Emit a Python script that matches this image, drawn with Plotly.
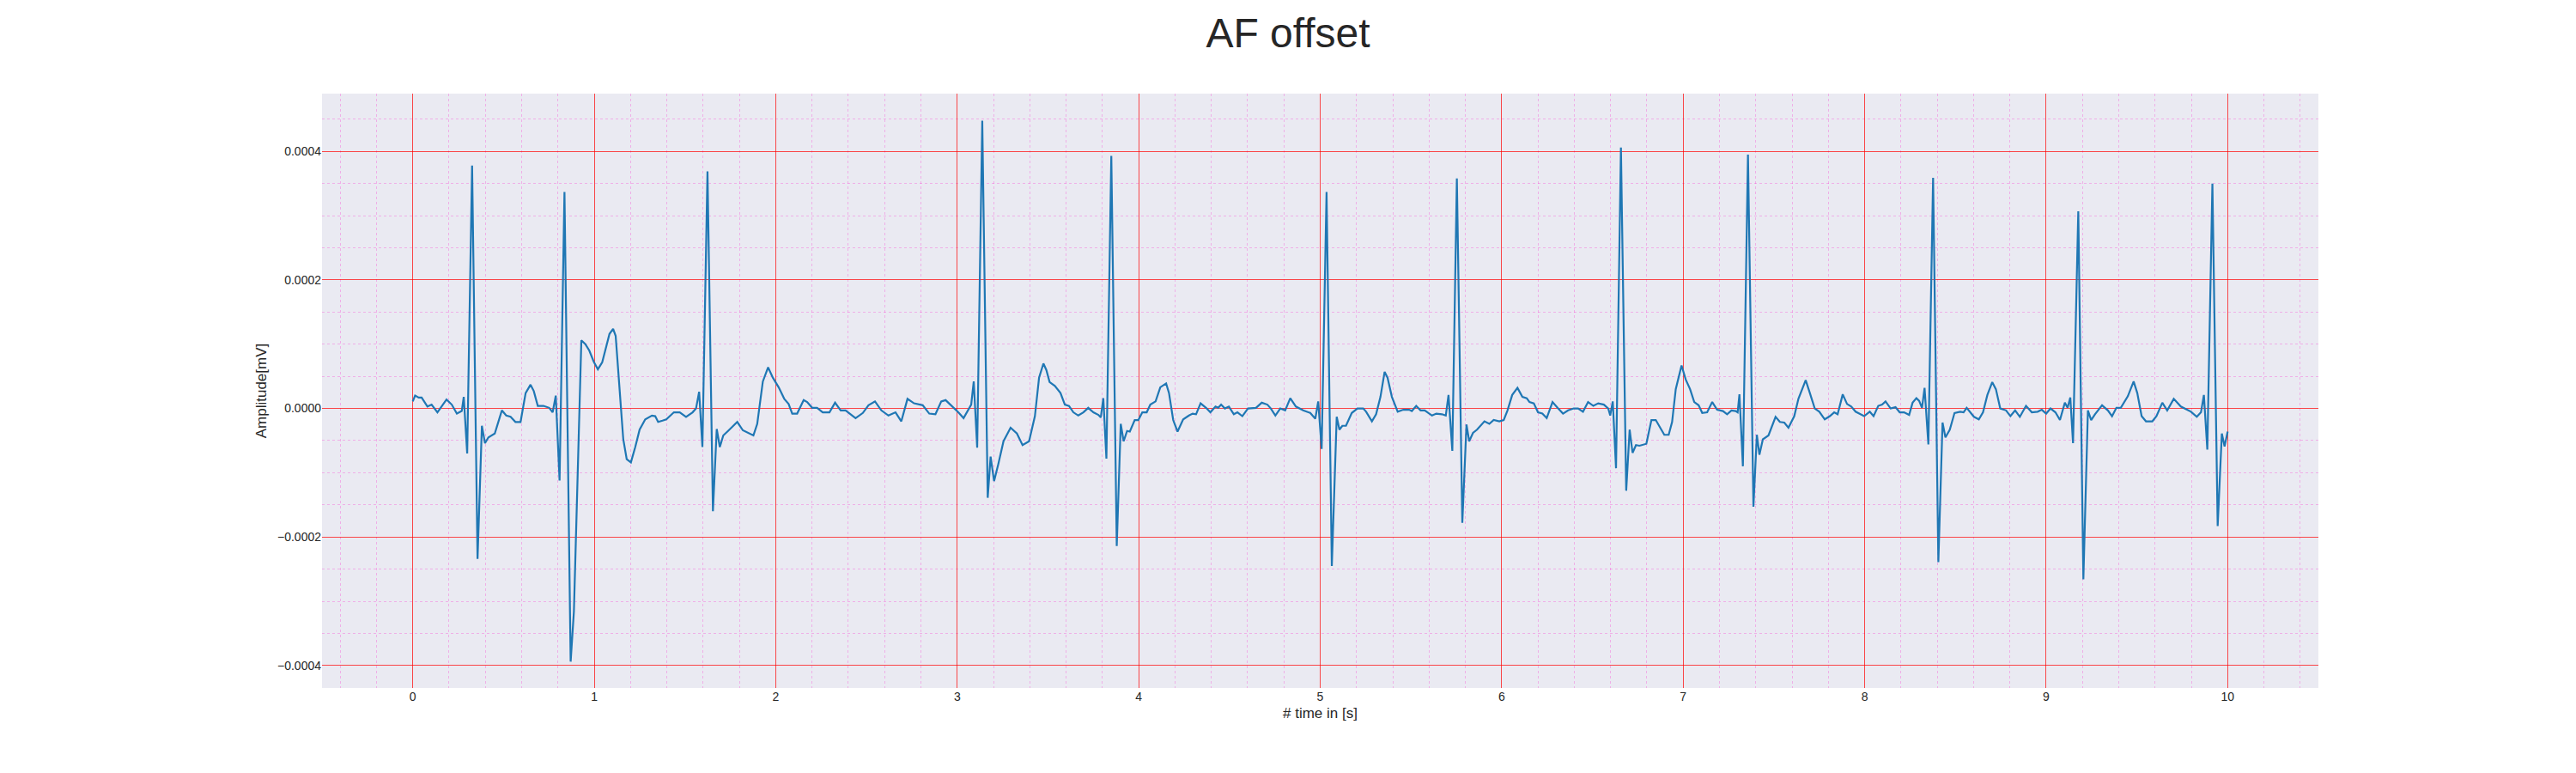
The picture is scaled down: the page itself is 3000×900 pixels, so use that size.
import plotly.graph_objects as go

# ECG trace (time in s, amplitude in mV)
time_s = [
    0.000, 0.013, 0.033, 0.049, 0.081, 0.104, 0.136, 0.186, 0.215, 0.243,
    0.270, 0.281, 0.300, 0.327, 0.357, 0.381, 0.398, 0.417, 0.452, 0.491,
    0.515, 0.539, 0.566, 0.594, 0.622, 0.649, 0.667, 0.689, 0.720, 0.752,
    0.771, 0.788, 0.809, 0.836, 0.870, 0.888, 0.929, 0.951, 0.973, 0.997,
    1.020, 1.044, 1.084, 1.104, 1.118, 1.139, 1.160, 1.179, 1.202, 1.226,
    1.250, 1.281, 1.318, 1.336, 1.352, 1.376, 1.397, 1.439, 1.471, 1.506,
    1.542, 1.561, 1.578, 1.596, 1.624, 1.654, 1.675, 1.692, 1.711, 1.741,
    1.764, 1.788, 1.819, 1.851, 1.877, 1.898, 1.929, 1.958, 1.984, 2.016,
    2.047, 2.071, 2.091, 2.118, 2.154, 2.173, 2.201, 2.228, 2.259, 2.296,
    2.327, 2.358, 2.385, 2.440, 2.480, 2.511, 2.547, 2.582, 2.621, 2.660,
    2.692, 2.726, 2.762, 2.810, 2.846, 2.880, 2.912, 2.936, 2.975, 3.006,
    3.035, 3.061, 3.077, 3.091, 3.110, 3.138, 3.168, 3.184, 3.203, 3.226,
    3.255, 3.294, 3.329, 3.360, 3.396, 3.428, 3.451, 3.475, 3.491, 3.509,
    3.538, 3.569, 3.593, 3.616, 3.640, 3.667, 3.695, 3.722, 3.750, 3.778,
    3.791, 3.805, 3.822, 3.849, 3.879, 3.901, 3.917, 3.936, 3.951, 3.978,
    3.998, 4.020, 4.044, 4.064, 4.093, 4.119, 4.151, 4.167, 4.190, 4.214,
    4.245, 4.277, 4.297, 4.316, 4.341, 4.371, 4.395, 4.423, 4.438, 4.454,
    4.475, 4.497, 4.524, 4.544, 4.571, 4.602, 4.646, 4.678, 4.709, 4.728,
    4.753, 4.780, 4.807, 4.835, 4.866, 4.906, 4.945, 4.973, 4.989, 5.008,
    5.035, 5.064, 5.091, 5.106, 5.122, 5.142, 5.174, 5.205, 5.237, 5.253,
    5.285, 5.308, 5.332, 5.355, 5.371, 5.395, 5.427, 5.458, 5.490, 5.505,
    5.529, 5.553, 5.576, 5.616, 5.640, 5.671, 5.692, 5.707, 5.728, 5.753,
    5.783, 5.806, 5.821, 5.842, 5.864, 5.905, 5.932, 5.956, 5.987, 6.011,
    6.032, 6.058, 6.087, 6.114, 6.138, 6.153, 6.177, 6.200, 6.224, 6.248,
    6.280, 6.311, 6.338, 6.366, 6.397, 6.421, 6.448, 6.476, 6.505, 6.532,
    6.563, 6.587, 6.598, 6.612, 6.630, 6.657, 6.686, 6.705, 6.721, 6.740,
    6.759, 6.797, 6.825, 6.849, 6.873, 6.896, 6.920, 6.939, 6.959, 6.991,
    7.014, 7.038, 7.061, 7.085, 7.105, 7.132, 7.160, 7.187, 7.219, 7.242,
    7.266, 7.289, 7.300, 7.310, 7.329, 7.357, 7.387, 7.406, 7.420, 7.439,
    7.470, 7.489, 7.509, 7.533, 7.557, 7.580, 7.612, 7.635, 7.675, 7.698,
    7.725, 7.750, 7.780, 7.808, 7.832, 7.851, 7.879, 7.903, 7.926, 7.950,
    7.997, 8.028, 8.049, 8.075, 8.096, 8.115, 8.143, 8.170, 8.193, 8.217,
    8.245, 8.264, 8.285, 8.300, 8.316, 8.330, 8.351, 8.377, 8.406, 8.429,
    8.445, 8.469, 8.495, 8.526, 8.545, 8.562, 8.581, 8.602, 8.629, 8.652,
    8.676, 8.703, 8.723, 8.747, 8.779, 8.803, 8.829, 8.855, 8.889, 8.921,
    8.953, 8.976, 9.000, 9.024, 9.051, 9.076, 9.103, 9.118, 9.133, 9.148,
    9.177, 9.205, 9.230, 9.248, 9.269, 9.308, 9.340, 9.363, 9.387, 9.411,
    9.450, 9.482, 9.502, 9.526, 9.550, 9.585, 9.608, 9.640, 9.667, 9.703,
    9.742, 9.774, 9.798, 9.830, 9.853, 9.869, 9.888, 9.916, 9.945, 9.968,
    9.983, 10.000,
]

amplitude_mv = [
    1.1e-5, 2.0e-5, 1.7e-5, 1.7e-5, 3e-6, 6e-6, -6e-6, 1.4e-5, 6e-6, -8e-6,
    -4e-6, 1.8e-5, -7.0e-5, 3.78e-4, -2.34e-4, -2.7e-5, -5.4e-5, -4.5e-5, -3.9e-5, -3e-6,
    -1.1e-5, -1.3e-5, -2.1e-5, -2.1e-5, 2.4e-5, 3.7e-5, 2.7e-5, 4e-6, 4e-6, 1e-6,
    -6e-6, 2.0e-5, -1.12e-4, 3.37e-4, -3.94e-4, -3.16e-4, 1.06e-4, 1.0e-4, 9.0e-5, 7.3e-5,
    6.1e-5, 7.2e-5, 1.16e-4, 1.24e-4, 1.13e-4, 3.6e-5, -4.8e-5, -7.9e-5, -8.4e-5, -6.0e-5,
    -3.3e-5, -1.7e-5, -1.1e-5, -1.2e-5, -2.1e-5, -1.9e-5, -1.7e-5, -6e-6, -6e-6, -1.3e-5,
    -6e-6, 0.0, 2.6e-5, -6.0e-5, 3.69e-4, -1.60e-4, -3.2e-5, -6.0e-5, -4.2e-5, -3.4e-5,
    -2.7e-5, -2.1e-5, -3.4e-5, -3.8e-5, -4.2e-5, -2.4e-5, 4.2e-5, 6.4e-5, 4.8e-5, 3.3e-5,
    1.5e-5, 7e-6, -8e-6, -8e-6, 1.3e-5, 1.0e-5, 1e-6, 1e-6, -6e-6, -6e-6,
    9e-6, -3e-6, -3e-6, -1.5e-5, -7e-6, 5e-6, 1.1e-5, -3e-6, -1.1e-5, -6e-6,
    -2.0e-5, 1.5e-5, 8e-6, 5e-6, -8e-6, -9e-6, 1.1e-5, 1.3e-5, 3e-6, -6e-6,
    -1.5e-5, -3e-6, 6e-6, 4.2e-5, -6.1e-5, 4.48e-4, -1.39e-4, -7.5e-5, -1.13e-4, -8.7e-5,
    -5.1e-5, -3.0e-5, -3.9e-5, -5.7e-5, -5.1e-5, -1.2e-5, 4.8e-5, 7.0e-5, 6.0e-5, 4.1e-5,
    3.5e-5, 2.4e-5, 6e-6, 4e-6, -6e-6, -1.1e-5, -6e-6, 1e-6, -6e-6, -1.0e-5,
    -1.4e-5, 1.6e-5, -7.8e-5, 3.93e-4, -2.14e-4, -2.4e-5, -5.1e-5, -3.5e-5, -3.6e-5, -1.8e-5,
    -1.8e-5, -6e-6, -6e-6, 6e-6, 1.1e-5, 3.3e-5, 3.9e-5, 2.4e-5, -1.8e-5, -3.6e-5,
    -1.7e-5, -1.1e-5, -8e-6, -9e-6, 8e-6, 1e-6, -6e-6, 3e-6, 1e-6, 6e-6,
    0.0, 3e-6, -9e-6, -6e-6, -1.2e-5, 0.0, 1e-6, 9e-6, 6e-6, 0.0,
    -1.1e-5, 0.0, -3e-6, 1.6e-5, 3e-6, -3e-6, -7e-6, -1.6e-5, 1.1e-5, -6.3e-5,
    3.37e-4, -2.45e-4, -1.3e-5, -3.3e-5, -2.7e-5, -2.7e-5, -7e-6, 0.0, 0.0, -5e-6,
    -2.0e-5, -9e-6, 1.8e-5, 5.7e-5, 4.8e-5, 1.8e-5, -5e-6, -2e-6, -2e-6, -4e-6,
    4e-6, -3e-6, -3e-6, -1.1e-5, -8e-6, -9e-6, -1.1e-5, 2.1e-5, -6.6e-5, 3.58e-4,
    -1.78e-4, -2.5e-5, -5.1e-5, -3.8e-5, -3.3e-5, -2.0e-5, -2.4e-5, -1.8e-5, -2.0e-5, -1.8e-5,
    -3e-6, 2.1e-5, 3.2e-5, 1.8e-5, 1.6e-5, 1.0e-5, 8e-6, -6e-6, -8e-6, -1.5e-5,
    1.0e-5, 0.0, -8e-6, -3e-6, 0.0, 0.0, -5e-6, 1.0e-5, 4e-6, 8e-6,
    6e-6, 0.0, -1.1e-5, 1.1e-5, -9.3e-5, 4.06e-4, -1.28e-4, -3.3e-5, -6.9e-5, -5.7e-5,
    -5.8e-5, -5.5e-5, -1.8e-5, -1.8e-5, -3.0e-5, -4.1e-5, -4.1e-5, -2.1e-5, 3.0e-5, 6.7e-5,
    4.5e-5, 3.0e-5, 1.0e-5, 5e-6, -7e-6, -6e-6, 1.0e-5, -2e-6, -4e-6, -9e-6,
    -3e-6, -4e-6, -6e-6, 2.2e-5, -9.0e-5, 3.95e-4, -1.53e-4, -4.1e-5, -7.2e-5, -4.8e-5,
    -4.2e-5, -2.7e-5, -1.3e-5, -2.1e-5, -2.2e-5, -3.0e-5, -1.2e-5, 1.5e-5, 4.4e-5, 2.4e-5,
    0.0, -5e-6, -1.7e-5, -1.2e-5, -6e-6, -9e-6, 2.2e-5, 7e-6, 3e-6, -5e-6,
    -1.2e-5, -5e-6, -1.2e-5, 4e-6, 6e-6, 1.1e-5, 0.0, 2e-6, -6e-6, -6e-6,
    -1.0e-5, 9e-6, 1.6e-5, 1.2e-5, 1e-6, 3.2e-5, -5.6e-5, 3.59e-4, -2.39e-4, -2.2e-5,
    -4.5e-5, -3.3e-5, -7e-6, -5e-6, -6e-6, 1e-6, -6e-6, -1.3e-5, -1.7e-5, -6e-6,
    2.1e-5, 4.1e-5, 3.0e-5, 0.0, -3e-6, -1.2e-5, -3e-6, -1.3e-5, 4e-6, -6e-6,
    -5e-6, -2e-6, -8e-6, 0.0, -6e-6, -1.8e-5, 9e-6, 1e-6, 1.7e-5, -5.4e-5,
    3.07e-4, -2.66e-4, -3e-6, -1.8e-5, -9e-6, 5e-6, -3e-6, -1.2e-5, 1e-6, 1e-6,
    1.9e-5, 4.2e-5, 2.4e-5, -1.2e-5, -2.0e-5, -2.0e-5, -1.2e-5, 9e-6, -3e-6, 1.5e-5,
    3e-6, -2e-6, -5e-6, -1.3e-5, -6e-6, 2.1e-5, -6.4e-5, 3.50e-4, -1.83e-4, -3.9e-5,
    -5.9e-5, -3.6e-5,
]

major_grid = 'rgba(255, 0, 0, 0.7)'
minor_grid = 'rgba(255, 0, 200, 0.25)'

# the page body adds an 8px offset, so the figure is 8px smaller
fig_w, fig_h = 2992, 892

fig = go.Figure()
fig.add_trace(go.Scatter(
    x=time_s,
    y=amplitude_mv,
    mode='lines',
    line=dict(color='#1f77b4', width=2.2),
    showlegend=False,
))

fig.update_layout(
    width=fig_w,
    height=fig_h,
    margin=dict(l=367, r=300, t=101, b=99),
    paper_bgcolor='white',
    plot_bgcolor='#EAEAF2',
    font=dict(family='Liberation Sans, Arial, sans-serif', size=14, color='#262626'),
    title=dict(
        text='AF offset',
        x=1492 / fig_w, xref='container', xanchor='center',
        y=1 - 30 / fig_h, yref='container', yanchor='middle',
        font=dict(size=48, color='#262626'),
    ),
    xaxis=dict(
        title=dict(text='# time in [s]', standoff=6),
        range=[-0.5, 10.5],
        tick0=0, dtick=1,
        showgrid=True, gridcolor=major_grid, gridwidth=1,
        zeroline=False, showline=False, ticks='',
        minor=dict(dtick=0.2, tick0=0, showgrid=True,
                   gridcolor=minor_grid, gridwidth=1, griddash='dot'),
    ),
    yaxis=dict(
        title=dict(text='Amplitude[mV]', standoff=8),
        range=[-0.000435, 0.00049],
        tick0=0, dtick=0.0002, tickformat='.4f',
        showgrid=True, gridcolor=major_grid, gridwidth=1,
        zeroline=False, showline=False, ticks='',
        minor=dict(dtick=0.00005, tick0=0, showgrid=True,
                   gridcolor=minor_grid, gridwidth=1, griddash='dot'),
    ),
)

fig.write_html("out.html")
